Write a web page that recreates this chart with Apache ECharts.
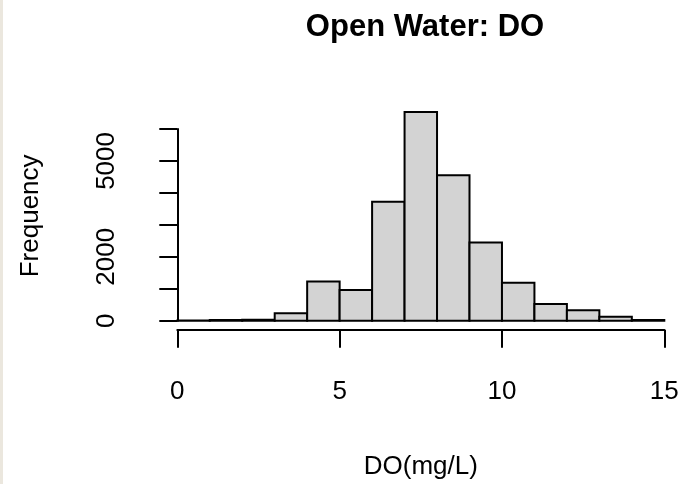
<!DOCTYPE html>
<html>
<head>
<meta charset="utf-8">
<script src="https://cdn.jsdelivr.net/npm/echarts@6/dist/echarts.min.js"></script>
<style>
html,body{margin:0;padding:0;background:#fff;}
#chart{width:691px;height:484px;}
</style>
</head>
<body>
<div id="chart"></div>
<script>
// Histogram bins (DO, mg/L) and frequencies
var binStarts = [0, 1, 2, 3, 4, 5, 6, 7, 8, 9, 10, 11, 12, 13, 14];
var binEnds   = [1, 2, 3, 4, 5, 6, 7, 8, 9, 10, 11, 12, 13, 14, 15];
var counts    = [5, 25, 30, 230, 1230, 960, 3720, 6530, 4550, 2450, 1190, 520, 330, 125, 25];
var xTicks = [0, 5, 10, 15];
var yTickLabels = [0, 2000, 5000];

var data = binStarts.map(function (s, i) { return [s, binEnds[i], counts[i]]; });

var chart = echarts.init(document.getElementById('chart'), null, {renderer: 'canvas'});
var FONT = '"Liberation Sans", Arial, sans-serif';
chart.setOption({
  animation: false,
  backgroundColor: '#ffffff',
  title: {
    text: 'Open Water: DO',
    left: 420,
    textAlign: 'center',
    top: 7,
    textStyle: {fontFamily: FONT, fontWeight: 'bold', fontSize: 31, color: '#000'}
  },
  graphic: [{
    type: 'rect', left: 0, top: 0, shape: {x: 0, y: 0, width: 3, height: 484},
    style: {fill: '#ebe7de'}, silent: true
  }],
  grid: {left: 177.3, right: 26.7, top: 129, bottom: 163.3, containLabel: false},
  xAxis: {
    type: 'value', min: 0, max: 15, interval: 5, offset: 9,
    name: 'DO(mg/L)', nameLocation: 'middle', nameGap: 124,
    nameTextStyle: {fontFamily: FONT, fontSize: 26, color: '#000'},
    axisLine: {show: true, onZero: false, lineStyle: {color: '#000', width: 2}},
    axisTick: {show: true, length: 18, lineStyle: {color: '#000', width: 2}},
    axisLabel: {
      show: true, margin: 49, fontFamily: FONT, fontSize: 26, color: '#000',
      showMinLabel: true, showMaxLabel: true,
      formatter: function (v) { return xTicks.indexOf(v) >= 0 ? String(v) : ''; }
    },
    splitLine: {show: false}
  },
  yAxis: {
    type: 'value', min: 0, max: 6000, interval: 1000,
    name: 'Frequency', nameLocation: 'middle', nameGap: 133, nameRotate: 90,
    nameTextStyle: {fontFamily: FONT, fontSize: 26, color: '#000', padding: [0, 0, 0, 18]},
    axisLine: {show: true, lineStyle: {color: '#000', width: 2}},
    axisTick: {show: true, length: 18, lineStyle: {color: '#000', width: 2}},
    axisLabel: {
      show: true, rotate: 90, margin: 57, fontFamily: FONT, fontSize: 26, color: '#000',
      showMinLabel: true, showMaxLabel: true, hideOverlap: false,
      formatter: function (v) { return yTickLabels.indexOf(v) >= 0 ? String(v) : ''; }
    },
    splitLine: {show: false}
  },
  series: [{
    type: 'custom',
    clip: false,
    data: data,
    encode: {x: [0, 1], y: 2},
    renderItem: function (params, api) {
      var pTop = api.coord([api.value(0), api.value(2)]);
      var pBot = api.coord([api.value(1), 0]);
      return {
        type: 'rect',
        shape: {x: pTop[0], y: pTop[1], width: pBot[0] - pTop[0], height: pBot[1] - pTop[1]},
        style: {fill: '#d3d3d3', stroke: '#000', lineWidth: 2}
      };
    }
  }]
});
</script>
</body>
</html>
